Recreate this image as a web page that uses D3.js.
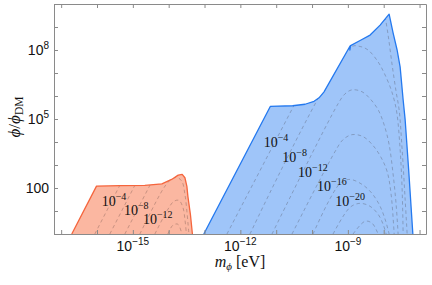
<!DOCTYPE html>
<html>
<head>
<meta charset="utf-8">
<script src="https://cdn.jsdelivr.net/npm/d3@7"></script>
<style>
  body { margin: 0; background: #fff; }
</style>
</head>
<body>
<div id="chart"></div>
<script>
// all points are [log10(m_phi / eV), log10(phi / phi_DM)]

// region outlines
const redEdge = [[-16.704, 0], [-16.014, 2.082], [-15.363, 2.10], [-14.665, 2.113], [-14.19, 2.18],
  [-13.919, 2.372], [-13.735, 2.558], [-13.623, 2.589], [-13.547, 2.446], [-13.492, 2.069],
  [-13.464, 1.636], [-13.394, 0.857], [-13.338, 0]];

const blueEdge = [[-13.02, 0], [-11.165, 5.545], [-10.54, 5.576], [-10.196, 5.641], [-9.944, 5.771],
  [-9.804, 5.922], [-9.665, 6.182], [-8.939, 8.173], [-8.944, 8.0], [-8.925, 8.19], [-8.659, 8.411],
  [-8.38, 8.649], [-8.101, 9.082], [-7.849, 9.558], [-7.737, 8.736], [-7.626, 8.0], [-7.542, 7.264],
  [-7.458, 5.835], [-7.402, 4.970], [-7.304, 2.805], [-7.187, 0]];

// dashed contours inside the regions
const redContours = [
  [[-16.061, 0], [-15.307, 2.286]],
  [[-15.642, 0], [-14.888, 2.286]],
  [[-15.223, 0], [-14.469, 2.286]],
  [[-14.804, 0], [-14.162, 1.939], [-13.966, 2.329], [-13.771, 2.459], [-13.631, 2.286], [-13.547, 1.723], [-13.492, 0.987], [-13.436, 0]],
  [[-14.385, 0], [-14.022, 1.074], [-13.855, 1.420], [-13.715, 1.463], [-13.603, 1.160], [-13.547, 0.641], [-13.506, 0]],
  [[-14.022, 0], [-13.883, 0.381], [-13.743, 0.424], [-13.631, 0]]
];

const blueContours = [
  [[-12.374, 0], [-10.335, 6.095]],
  [[-7.989, 9.732], [-7.877, 8.649], [-7.765, 7.351], [-7.654, 6.182], [-7.570, 5.403], [-7.486, 3.671], [-7.402, 1.506], [-7.346, 0]],
  [[-11.732, 0], [-8.911, 8.13], [-8.659, 8.152], [-8.436, 8.0], [-8.156, 7.481], [-7.989, 7.004], [-7.821, 6.398], [-7.709, 5.835], [-7.626, 5.186], [-7.542, 3.671], [-7.486, 1.939], [-7.458, 0]],
  [[-11.117, 0], [-9.274, 5.662], [-9.078, 6.095], [-8.883, 6.268], [-8.603, 6.182], [-8.38, 5.879], [-8.156, 5.403], [-7.989, 4.753], [-7.849, 3.887], [-7.737, 2.589], [-7.654, 1.29], [-7.598, 0]],
  [[-10.559, 0], [-9.358, 3.584], [-9.134, 4.104], [-8.883, 4.320], [-8.575, 4.234], [-8.296, 3.844], [-8.073, 3.325], [-7.905, 2.719], [-7.793, 1.723], [-7.709, 0]],
  [[-9.972, 0], [-9.218, 2.199], [-8.939, 2.372], [-8.603, 2.156], [-8.352, 1.81], [-8.128, 1.29], [-7.961, 0.641], [-7.849, 0]],
  [[-9.413, 0], [-8.939, 1.160], [-8.659, 1.333], [-8.38, 1.203], [-8.156, 0.857], [-8.017, 0.424], [-7.933, 0]],
  [[-8.855, 0], [-8.52, 0.554], [-8.324, 0.468], [-8.156, 0]]
];

// contour labels: exponent and anchor point
const redLabelExps = [-4, -8, -12];
const redLabelPos = [[-15.87, 1.216], [-15.25, 0.814], [-14.72, 0.455]];
const blueLabelExps = [-4, -8, -12, -16, -20];
const blueLabelPos = [[-11.35, 3.771], [-10.83, 3.121], [-10.39, 2.481], [-9.86, 1.866], [-9.35, 1.216]];

// ticks
const xDecades = d3.range(-17, -6);
const xLabelExps = [-15, -12, -9];
const yDecades = d3.range(0, 11);
const yLabelExps = [2, 5, 8];

const W = 432, H = 285;
const margin = { top: 4, right: 6, bottom: 51, left: 54 };

const x = d3.scaleLog()
  .domain([10 ** -17.2, 10 ** -6.82])
  .range([margin.left, W - margin.right]);
const y = d3.scaleLog()
  .domain([1, 1e10])
  .range([H - margin.bottom, margin.top]);

const px = d => x(10 ** d[0]);
const py = d => y(10 ** d[1]);

const svg = d3.select("#chart")
  .append("svg")
  .attr("width", W)
  .attr("height", H);

const line = d3.line().x(px).y(py);
const smooth = d3.line().x(px).y(py).curve(d3.curveCatmullRom.alpha(0.5));

const regions = [
  { id: "red", edge: redEdge, contours: redContours, fill: "#fbb7a1", stroke: "#f5653d", dash: "#7a5a52" },
  { id: "blue", edge: blueEdge, contours: blueContours, fill: "#9fc5f9", stroke: "#2479ef", dash: "#5a6070" }
];

const defs = svg.append("defs");
regions.forEach(r => {
  defs.append("clipPath").attr("id", "clip-" + r.id)
    .append("path").attr("d", line(r.edge) + "Z");
});

regions.forEach(r => {
  svg.append("path")
    .attr("d", line(r.edge) + "Z")
    .attr("fill", r.fill);

  svg.append("g")
    .attr("clip-path", `url(#clip-${r.id})`)
    .selectAll("path")
    .data(r.contours)
    .join("path")
    .attr("d", smooth)
    .attr("fill", "none")
    .attr("stroke", r.dash)
    .attr("stroke-opacity", 0.5)
    .attr("stroke-width", 0.8)
    .attr("stroke-dasharray", "3.5,3");

  svg.append("path")
    .attr("d", line(r.edge))
    .attr("fill", "none")
    .attr("stroke", r.stroke)
    .attr("stroke-width", 1.3)
    .attr("stroke-linejoin", "round");
});

// contour labels
function addLabels(exps, pos) {
  const t = svg.append("g")
    .selectAll("text")
    .data(exps)
    .join("text")
    .attr("x", (d, i) => px(pos[i]))
    .attr("y", (d, i) => py(pos[i]))
    .attr("font-family", "'Liberation Serif', 'Times New Roman', serif")
    .attr("font-size", 14)
    .attr("fill", "#111");
  t.append("tspan").text("10");
  t.append("tspan")
    .attr("dy", -6)
    .attr("font-size", 10)
    .text(d => "\u2212" + Math.abs(d));
}
addLabels(redLabelExps, redLabelPos);
addLabels(blueLabelExps, blueLabelPos);

// frame with inward ticks
const frameColor = "#8a8a8a";
const tickVals = xDecades.map(e => 10 ** e);
const yTickVals = yDecades.map(e => 10 ** e);

function styleAxis(g) {
  g.selectAll("path, line").attr("stroke", frameColor);
  g.selectAll("text").remove();
}
svg.append("g").attr("transform", `translate(0,${H - margin.bottom})`)
  .call(d3.axisBottom(x).tickValues(tickVals).tickSizeInner(-4).tickSizeOuter(0)).call(styleAxis);
svg.append("g").attr("transform", `translate(0,${margin.top})`)
  .call(d3.axisTop(x).tickValues(tickVals).tickSizeInner(-4).tickSizeOuter(0)).call(styleAxis);
svg.append("g").attr("transform", `translate(${margin.left},0)`)
  .call(d3.axisLeft(y).tickValues(yTickVals).tickSizeInner(-4).tickSizeOuter(0)).call(styleAxis);
svg.append("g").attr("transform", `translate(${W - margin.right},0)`)
  .call(d3.axisRight(y).tickValues(yTickVals).tickSizeInner(-4).tickSizeOuter(0)).call(styleAxis);

const tickFont = "'Liberation Sans', Arial, sans-serif";

// x tick labels
const xl = svg.append("g")
  .selectAll("text")
  .data(xLabelExps)
  .join("text")
  .attr("x", d => x(10 ** d))
  .attr("y", H - margin.bottom + 17)
  .attr("text-anchor", "middle")
  .attr("font-family", tickFont)
  .attr("font-size", 14)
  .attr("fill", "#111");
xl.append("tspan").text("10");
xl.append("tspan").attr("dy", -6).attr("font-size", 10).text(d => "\u2212" + Math.abs(d));

// y tick labels
const yl = svg.append("g")
  .selectAll("text")
  .data(yLabelExps)
  .join("text")
  .attr("x", margin.left - 5)
  .attr("y", d => y(10 ** d) + 5)
  .attr("text-anchor", "end")
  .attr("font-family", tickFont)
  .attr("font-size", 14)
  .attr("fill", "#111");
yl.each(function (d) {
  const t = d3.select(this);
  if (d < 3) {
    t.text(String(10 ** d));
  } else {
    t.append("tspan").text("10");
    t.append("tspan").attr("dy", -6.5).attr("font-size", 10).text(d);
  }
});

// axis titles
const serif = "'Liberation Serif', 'DejaVu Serif', serif";
const xt = svg.append("text")
  .attr("x", (margin.left + W - margin.right) / 2)
  .attr("y", 267)
  .attr("text-anchor", "middle")
  .attr("font-family", serif)
  .attr("font-size", 16)
  .attr("fill", "#111");
xt.append("tspan").attr("font-style", "italic").text("m");
xt.append("tspan").attr("font-style", "italic").attr("font-size", 11).attr("dy", 3).text("\u03d5");
xt.append("tspan").attr("dy", -3).text(" [eV]");

const yt = svg.append("text")
  .attr("transform", `translate(20,${(margin.top + H - margin.bottom) / 2 - 2}) rotate(-90)`)
  .attr("text-anchor", "middle")
  .attr("font-family", serif)
  .attr("font-size", 17)
  .attr("fill", "#111");
yt.append("tspan").attr("font-style", "italic").text("\u03d5");
yt.append("tspan").text("/");
yt.append("tspan").attr("font-style", "italic").text("\u03d5");
yt.append("tspan").attr("font-size", 11.5).attr("dy", 3).text("DM");
</script>
</body>
</html>
